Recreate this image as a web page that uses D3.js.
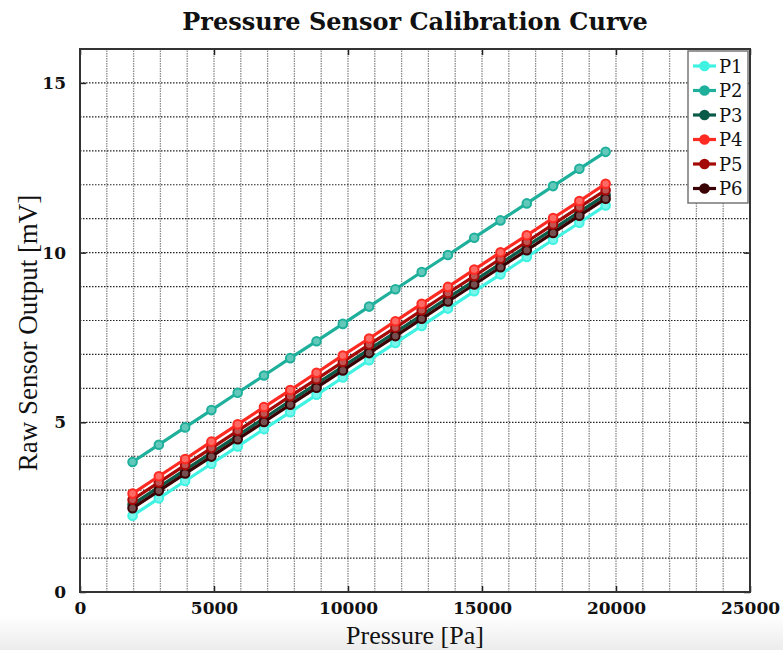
<!DOCTYPE html>
<html>
<head>
<meta charset="utf-8">
<script src="https://cdn.jsdelivr.net/npm/d3@7"></script>
<style>
  body { margin: 0; background: #fff; }
  svg { display: block; }
</style>
</head>
<body>
<div id="chart"></div>
<script>
// pressure steps (Pa) and sensor readings (mV)
const pressure = [1961, 2942, 3923, 4903, 5884, 6865, 7845, 8826, 9807, 10787,
  11768, 12749, 13729, 14710, 15691, 16671, 17652, 18633, 19613];

const P1 = [2.25, 2.76, 3.27, 3.78, 4.29, 4.80, 5.30, 5.81, 6.32, 6.83, 7.34, 7.84, 8.35, 8.86, 9.36, 9.87, 10.38, 10.88, 11.39];
const P2 = [3.83, 4.34, 4.85, 5.36, 5.87, 6.38, 6.89, 7.39, 7.90, 8.41, 8.92, 9.43, 9.93, 10.44, 10.95, 11.45, 11.96, 12.47, 12.97];
const P3 = [2.58, 3.09, 3.60, 4.10, 4.61, 5.12, 5.63, 6.13, 6.64, 7.15, 7.65, 8.16, 8.67, 9.17, 9.68, 10.19, 10.69, 11.20, 11.70];
const P4 = [2.90, 3.41, 3.92, 4.43, 4.94, 5.45, 5.95, 6.46, 6.97, 7.47, 7.98, 8.49, 8.99, 9.50, 10.01, 10.51, 11.02, 11.52, 12.03];
const P5 = [2.72, 3.23, 3.74, 4.24, 4.75, 5.26, 5.77, 6.27, 6.78, 7.29, 7.79, 8.30, 8.81, 9.31, 9.82, 10.32, 10.83, 11.34, 11.84];
const P6 = [2.47, 2.98, 3.49, 3.99, 4.50, 5.01, 5.52, 6.02, 6.53, 7.04, 7.54, 8.05, 8.56, 9.06, 9.57, 10.07, 10.58, 11.09, 11.59];

const seriesNames = ["P1", "P2", "P3", "P4", "P5", "P6"];
const seriesValues = [P1, P2, P3, P4, P5, P6];
const colors = ["#3ff2e2", "#1fb09c", "#0a5a48", "#ff2a22", "#a30a08", "#3a0204"];

const xTicks = [0, 5000, 10000, 15000, 20000, 25000];
const yTicks = [0, 5, 10, 15];

const width = 783;
const height = 650;
const margin = { top: 49, right: 33, bottom: 58, left: 80 };

const svg = d3.select("#chart").append("svg")
  .attr("width", width)
  .attr("height", height);

// faint shadow band at the very bottom
const grad = svg.append("defs").append("linearGradient")
  .attr("id", "shade").attr("x1", 0).attr("x2", 0).attr("y1", 0).attr("y2", 1);
grad.append("stop").attr("offset", "0%").attr("stop-color", "#fff");
grad.append("stop").attr("offset", "100%").attr("stop-color", "#ececec");
svg.append("rect").attr("x", 0).attr("y", 615).attr("width", width).attr("height", 35)
  .attr("fill", "url(#shade)");

const x = d3.scaleLinear().domain([0, 25000]).range([margin.left, width - margin.right]);
const y = d3.scaleLinear().domain([0, 16]).range([height - margin.bottom, margin.top]);

// grid
svg.append("g")
  .selectAll("line")
  .data(d3.range(1000, 25000, 1000))
  .join("line")
  .attr("x1", d => x(d)).attr("x2", d => x(d))
  .attr("y1", y(0)).attr("y2", y(16))
  .attr("stroke", "#8a8a8a")
  .attr("stroke-width", 1.3)
  .attr("stroke-dasharray", "1.5,1");

svg.append("g")
  .selectAll("line")
  .data(d3.range(1, 16, 1))
  .join("line")
  .attr("x1", x(0)).attr("x2", x(25000))
  .attr("y1", d => y(d)).attr("y2", d => y(d))
  .attr("stroke", "#222")
  .attr("stroke-width", 1.2)
  .attr("stroke-dasharray", "1.5,1.5");

// axes
const axisFont = "'DejaVu Serif', serif";
const xAxis = svg.append("g")
  .attr("transform", `translate(0,${y(0)})`)
  .call(d3.axisBottom(x).tickValues(xTicks).tickFormat(d3.format("d")).tickSize(-6).tickPadding(10));
const yAxis = svg.append("g")
  .attr("transform", `translate(${x(0)},0)`)
  .call(d3.axisLeft(y).tickValues(yTicks).tickSize(-6).tickPadding(14));
svg.append("g")
  .attr("transform", `translate(0,${y(16)})`)
  .call(d3.axisTop(x).tickValues(xTicks).tickSize(-6).tickFormat(""));
svg.append("g")
  .attr("transform", `translate(${x(25000)},0)`)
  .call(d3.axisRight(y).tickValues(yTicks).tickSize(-6).tickFormat(""));

svg.selectAll(".domain").remove();
svg.selectAll(".tick line").attr("stroke", "#222").attr("stroke-width", 1.5);
[xAxis, yAxis].forEach(a => a.selectAll("text")
  .style("font-family", axisFont)
  .style("font-weight", "bold")
  .style("font-size", "17px")
  .attr("fill", "#111"));

// frame
svg.append("rect")
  .attr("x", x(0)).attr("y", y(16))
  .attr("width", x(25000) - x(0)).attr("height", y(0) - y(16))
  .attr("fill", "none")
  .attr("stroke", "#333")
  .attr("stroke-width", 2);

// series
const line = d3.line()
  .x((d, i) => x(pressure[i]))
  .y(d => y(d));

const plotOrder = [1, 0, 2, 5, 4, 3];
plotOrder.forEach(k => {
  const g = svg.append("g");
  g.append("path")
    .datum(seriesValues[k])
    .attr("d", line)
    .attr("fill", "none")
    .attr("stroke", colors[k])
    .attr("stroke-width", 3.2);
  g.selectAll("circle")
    .data(seriesValues[k])
    .join("circle")
    .attr("cx", (d, i) => x(pressure[i]))
    .attr("cy", d => y(d))
    .attr("r", 4.3)
    .attr("fill", d3.interpolateRgb(colors[k], "#fff")(0.3))
    .attr("stroke", colors[k])
    .attr("stroke-width", 2);
});

// legend
const legX = 688, legY = 51, rowH = 24.5;
const legend = svg.append("g");
legend.append("rect")
  .attr("x", legX).attr("y", legY)
  .attr("width", x(25000) - legX - 2).attr("height", 152)
  .attr("fill", "#fff")
  .attr("stroke", "#777")
  .attr("stroke-width", 1.5);
const rows = legend.selectAll("g.row")
  .data(seriesNames)
  .join("g")
  .attr("class", "row")
  .attr("transform", (d, i) => `translate(${legX},${legY + 15 + i * rowH})`);
rows.append("line")
  .attr("x1", 5).attr("x2", 28).attr("y1", 0).attr("y2", 0)
  .attr("stroke", (d, i) => colors[i])
  .attr("stroke-width", 3.2);
rows.append("circle")
  .attr("cx", 16.5).attr("cy", 0).attr("r", 4.3)
  .attr("fill", (d, i) => colors[i])
  .attr("stroke", (d, i) => colors[i])
  .attr("stroke-width", 2);
rows.append("text")
  .attr("x", 31).attr("y", 6.5)
  .text(d => d)
  .style("font-family", axisFont)
  .style("font-size", "18px")
  .attr("fill", "#111");

// titles
svg.append("text")
  .attr("x", 415).attr("y", 30)
  .attr("text-anchor", "middle")
  .style("font-family", "'DejaVu Serif', serif")
  .style("font-weight", "bold")
  .style("font-size", "24px")
  .attr("fill", "#111")
  .text("Pressure Sensor Calibration Curve");

svg.append("text")
  .attr("x", 415).attr("y", 644)
  .attr("text-anchor", "middle")
  .style("font-family", "'Liberation Serif', serif")
  .style("font-size", "26px")
  .attr("fill", "#111")
  .text("Pressure [Pa]");

svg.append("text")
  .attr("transform", "translate(37,333) rotate(-90)")
  .attr("text-anchor", "middle")
  .style("font-family", "'Liberation Serif', serif")
  .style("font-size", "27px")
  .attr("fill", "#111")
  .text("Raw Sensor Output [mV]");
</script>
</body>
</html>
